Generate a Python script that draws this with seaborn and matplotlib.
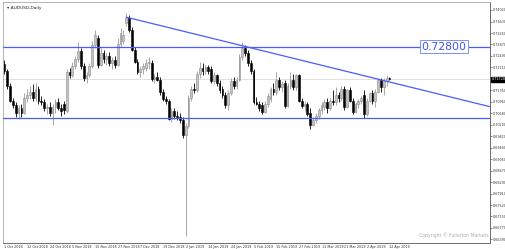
import numpy as np
import pandas as pd
import matplotlib
matplotlib.use("Agg")
import matplotlib.pyplot as plt
import seaborn as sns

# ---- data ----
opens = [0.7222,0.7200,0.7150,0.7100,0.7085,0.7060,0.7075,0.7060,0.7110,0.7120,
         0.7130,0.7110,0.7140,0.7100,0.7095,0.7075,0.7080,0.7060,0.7080,0.7095,
         0.7075,0.7090,0.7065,0.7195,0.7185,0.7215,0.7240,0.7265,0.7215,0.7175,
         0.7185,0.7215,0.7285,0.7310,0.7220,0.7260,0.7240,0.7250,0.7225,0.7235,
         0.7220,0.7290,0.7300,0.7360,0.7375,0.7336,0.7270,0.7230,0.7195,0.7205,
         0.7210,0.7225,0.7226,0.7172,0.7180,0.7170,0.7128,0.7105,0.7098,0.7040,
         0.7065,0.7050,0.7045,0.7035,0.6985,0.7015,0.7110,0.7140,0.7135,0.7190,
         0.7210,0.7200,0.7212,0.7205,0.7165,0.7185,0.7160,0.7140,0.7118,0.7085,
         0.7125,0.7165,0.7150,0.7170,0.7246,0.7275,0.7260,0.7225,0.7198,0.7097,
         0.7090,0.7085,0.7063,0.7090,0.7105,0.7140,0.7130,0.7170,0.7145,0.7160,
         0.7082,0.7150,0.7170,0.7145,0.7185,0.7100,0.7082,0.7090,0.7060,0.7020,
         0.7035,0.7050,0.7068,0.7080,0.7095,0.7075,0.7100,0.7095,0.7120,0.7110,
         0.7140,0.7078,0.7135,0.7100,0.7062,0.7088,0.7098,0.7120,0.7055,0.7100,
         0.7125,0.7100,0.7130,0.7168,0.7145,0.7165,0.7175]
highs = [0.7236,0.7205,0.7158,0.7110,0.7095,0.7085,0.7090,0.7125,0.7140,0.7150,
         0.7155,0.7160,0.7150,0.7115,0.7105,0.7090,0.7095,0.7090,0.7105,0.7110,
         0.7090,0.7100,0.7205,0.7210,0.7230,0.7250,0.7296,0.7275,0.7225,0.7195,
         0.7225,0.7300,0.7336,0.7320,0.7275,0.7270,0.7260,0.7262,0.7245,0.7250,
         0.7310,0.7342,0.7335,0.7392,0.7385,0.7345,0.7280,0.7240,0.7215,0.7225,
         0.7240,0.7245,0.7235,0.7190,0.7195,0.7180,0.7140,0.7115,0.7105,0.7075,
         0.7075,0.7065,0.7060,0.7045,0.7025,0.7120,0.7150,0.7160,0.7200,0.7230,
         0.7225,0.7220,0.7220,0.7215,0.7195,0.7190,0.7170,0.7150,0.7130,0.7135,
         0.7175,0.7180,0.7180,0.7255,0.7295,0.7285,0.7270,0.7235,0.7205,0.7112,
         0.7100,0.7095,0.7100,0.7125,0.7145,0.7160,0.7196,0.7180,0.7165,0.7170,
         0.7160,0.7196,0.7190,0.7190,0.7190,0.7110,0.7100,0.7095,0.7075,0.7045,
         0.7060,0.7075,0.7095,0.7105,0.7110,0.7110,0.7137,0.7145,0.7130,0.7150,
         0.7150,0.7140,0.7145,0.7110,0.7095,0.7105,0.7115,0.7135,0.7110,0.7130,
         0.7135,0.7140,0.7175,0.7175,0.7175,0.7186,0.7180]
lows  = [0.7190,0.7140,0.7095,0.7075,0.7045,0.7040,0.7045,0.7055,0.7095,0.7105,
         0.7100,0.7100,0.7090,0.7085,0.7065,0.7055,0.7050,0.7020,0.7060,0.7070,
         0.7050,0.7055,0.7060,0.7175,0.7180,0.7205,0.7230,0.7205,0.7165,0.7160,
         0.7180,0.7210,0.7275,0.7210,0.7215,0.7225,0.7220,0.7215,0.7205,0.7210,
         0.7215,0.7280,0.7290,0.7350,0.7330,0.7265,0.7225,0.7190,0.7180,0.7190,
         0.7200,0.7205,0.7165,0.7160,0.7165,0.7120,0.7100,0.7090,0.7035,0.7030,
         0.7040,0.7035,0.7025,0.6975,0.6650,0.7010,0.7100,0.7125,0.7130,0.7175,
         0.7185,0.7190,0.7190,0.7160,0.7155,0.7150,0.7125,0.7110,0.7075,0.7070,
         0.7120,0.7140,0.7140,0.7165,0.7235,0.7250,0.7215,0.7190,0.7090,0.7085,
         0.7065,0.7055,0.7058,0.7080,0.7095,0.7120,0.7120,0.7135,0.7130,0.7075,
         0.7080,0.7140,0.7135,0.7135,0.7095,0.7075,0.7065,0.7050,0.7005,0.7015,
         0.7025,0.7040,0.7055,0.7070,0.7060,0.7070,0.7085,0.7085,0.7095,0.7100,
         0.7070,0.7075,0.7095,0.7055,0.7058,0.7075,0.7090,0.7044,0.7050,0.7095,
         0.7090,0.7080,0.7125,0.7130,0.7120,0.7150,0.7168]
closes = [0.7200,0.7150,0.7100,0.7085,0.7060,0.7075,0.7060,0.7110,0.7120,0.7130,
          0.7110,0.7140,0.7100,0.7095,0.7075,0.7080,0.7060,0.7080,0.7095,0.7075,
          0.7065,0.7070,0.7195,0.7185,0.7215,0.7240,0.7265,0.7215,0.7175,0.7185,
          0.7215,0.7285,0.7320,0.7220,0.7260,0.7240,0.7250,0.7225,0.7235,0.7220,
          0.7290,0.7325,0.7320,0.7375,0.7336,0.7270,0.7230,0.7195,0.7205,0.7215,
          0.7225,0.7230,0.7172,0.7180,0.7170,0.7128,0.7105,0.7098,0.7040,0.7065,
          0.7050,0.7045,0.7035,0.6985,0.7015,0.7110,0.7140,0.7135,0.7190,0.7210,
          0.7200,0.7212,0.7200,0.7165,0.7185,0.7160,0.7135,0.7118,0.7085,0.7125,
          0.7165,0.7150,0.7170,0.7246,0.7275,0.7260,0.7225,0.7198,0.7097,0.7090,
          0.7075,0.7063,0.7090,0.7115,0.7140,0.7130,0.7170,0.7145,0.7155,0.7082,
          0.7150,0.7170,0.7145,0.7185,0.7100,0.7082,0.7090,0.7055,0.7020,0.7035,
          0.7050,0.7068,0.7085,0.7095,0.7075,0.7100,0.7095,0.7120,0.7110,0.7140,
          0.7078,0.7135,0.7100,0.7062,0.7088,0.7098,0.7108,0.7055,0.7100,0.7125,
          0.7100,0.7130,0.7168,0.7145,0.7165,0.7175,0.7172]

date_labels = ["1 Oct 2018", "12 Oct 2018", "24 Oct 2018", "5 Nov 2018", "15 Nov 2018",
               "27 Nov 2018", "7 Dec 2018", "19 Dec 2018", "2 Jan 2019", "14 Jan 2019",
               "24 Jan 2019", "5 Feb 2019", "15 Feb 2019", "27 Feb 2019", "11 Mar 2019",
               "21 Mar 2019", "2 Apr 2019", "12 Apr 2019"]
price_labels = [0.74020, 0.73630, 0.73250, 0.72870, 0.72490, 0.72110,
                0.71350, 0.70960, 0.70580, 0.70200, 0.69820, 0.69440, 0.69050,
                0.68670, 0.68290, 0.67910, 0.67520, 0.67150, 0.66770, 0.66390]
resistance = 0.72800
support = 0.70420
trend_start = (43, 0.7378)
trend_end = (171.5, 0.7080)
bid = 0.71720

df = pd.DataFrame({"open": opens, "high": highs, "low": lows, "close": closes})
df["bar"] = np.arange(len(df))
df["up"] = df["close"] >= df["open"]

sns.set_theme(style="white")
plt.rcParams["font.family"] = ["DejaVu Sans"]

fig = plt.figure(figsize=(5.06, 2.49), dpi=100)
ax = fig.add_axes([3/506, 6/249, 487/506, 241/249])

blue = "#4a5cff"
gray_body = "#c4c4c4"
gray_edge = "#8c8c8c"

# bid line
ax.axhline(bid, color="#dcdcdc", lw=0.6, zorder=1)

# wicks
for up, col in [(True, "#9a9a9a"), (False, "black")]:
    d = df[df["up"] == up]
    ax.vlines(d["bar"], d["low"], d["high"], color=col, lw=0.6, zorder=2)
# bodies
for up, fc, ec in [(True, gray_body, gray_edge), (False, "black", "black")]:
    d = df[df["up"] == up]
    h = (d["close"] - d["open"]).abs().clip(lower=0.00012)
    b = np.minimum(d["open"], d["close"])
    ax.bar(d["bar"], h, bottom=b, width=0.62, color=fc, edgecolor=ec,
           linewidth=0.4, zorder=3)

# horizontal levels and trendline
ax.axhline(resistance, color=blue, lw=0.9, zorder=4)
ax.axhline(support, color=blue, lw=0.9, zorder=4)
ax.plot([trend_start[0], trend_end[0]], [trend_start[1], trend_end[1]],
        color=blue, lw=0.9, zorder=4)

ax.text(155.3, resistance, f"{resistance:.5f}", color="#3f55ee", fontsize=7.8,
        ha="center", va="center", zorder=6,
        bbox=dict(boxstyle="square,pad=0.12", fc="white", ec="#6a7cff", lw=0.6))

ax.set_xlim(-0.5, 171.5)
ax.set_ylim(0.66265, 0.74284)

# axes styling
ax.yaxis.tick_right()
ax.set_yticks(price_labels)
ax.set_yticklabels([f"{v:.5f}" for v in price_labels], fontsize=2.4, color="#333333")
ax.tick_params(axis="y", length=1.2, width=0.4, pad=0.8, colors="#333333")
ticks = list(range(0, 8 * len(date_labels), 8))
ax.set_xticks(ticks)
ax.set_xticklabels(date_labels, fontsize=2.4, ha="left", color="#333333")
ax.tick_params(axis="x", length=1.0, width=0.4, pad=0.4, colors="#333333")
for s in ["top", "left"]:
    ax.spines[s].set_color("#9a9a9a")
    ax.spines[s].set_linewidth(0.5)
for s in ["right", "bottom"]:
    ax.spines[s].set_color("#555555")
    ax.spines[s].set_linewidth(0.6)

# current price box
ax.text(1.004, bid, f"{bid:.5f}", transform=ax.get_yaxis_transform(),
        fontsize=2.4, color="white", va="center", ha="left",
        bbox=dict(boxstyle="square,pad=0.15", fc="black", ec="black"), zorder=7)

ax.text(0.008, 0.985, "\u25be AUDUSD,Daily", transform=ax.transAxes, fontsize=3.2,
        va="top", ha="left", color="#222222")
ax.text(0.997, 0.02, "Copyright \u00a9 Fullerton Markets", transform=ax.transAxes,
        fontsize=3.3, va="bottom", ha="right", color="#b0b0b0")

fig.savefig("out.png", dpi=100)
